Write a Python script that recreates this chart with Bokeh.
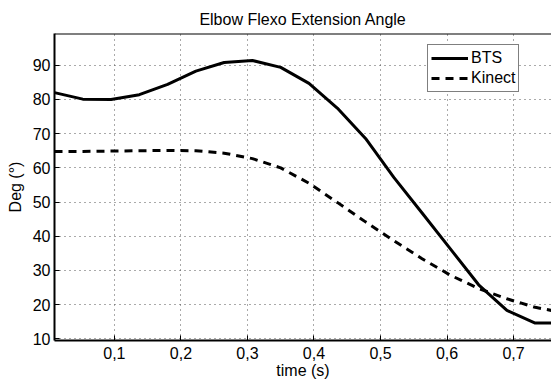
from bokeh.plotting import figure
from bokeh.models import (Range1d, FixedTicker, CustomJSTickFormatter, Legend, LegendItem, Span)
from bokeh.embed import file_html
from bokeh.resources import INLINE

# ---- data ----
time_s = [0.010, 0.0525, 0.095, 0.1375, 0.180, 0.2225, 0.265, 0.3075, 0.350, 0.3925,
          0.435, 0.4775, 0.520, 0.5625, 0.605, 0.6475, 0.690, 0.7325, 0.775]
bts = [82.0, 80.1, 80.0, 81.4, 84.4, 88.3, 90.8, 91.4, 89.4, 84.7,
       77.5, 68.6, 57.2, 46.8, 36.3, 25.8, 18.3, 14.6, 14.6]
kinect = [64.8, 64.8, 64.9, 65.0, 65.1, 65.0, 64.3, 62.7, 60.0, 55.5,
          49.9, 44.2, 38.7, 33.4, 28.6, 24.7, 21.7, 19.2, 17.6]
x_ticks = [0.1, 0.2, 0.3, 0.4, 0.5, 0.6, 0.7]
y_ticks = [10, 20, 30, 40, 50, 60, 70, 80, 90]
series_names = ["BTS", "Kinect"]
title_text = "Elbow Flexo Extension Angle"
x_label = "time (s)"
y_label = "Deg (°)"

FONT = "Liberation Sans"
FS = "16px"
Y_TOP = 99.3

p = figure(width=551, height=384, output_backend="svg", toolbar_location=None,
           x_range=Range1d(0.010, 0.757), y_range=Range1d(9.5, Y_TOP),
           min_border_left=54, min_border_right=0, min_border_top=33, min_border_bottom=44,
           title=title_text)
p.background_fill_color = "white"
p.border_fill_color = "white"
p.outline_line_color = None

p.title.text_font = FONT
p.title.text_font_size = FS
p.title.text_font_style = "normal"
p.title.text_color = "black"
p.title.align = "center"
p.title.standoff = 12

fmt = CustomJSTickFormatter(code="return tick.toFixed(1).replace('.', ',');")

for ax in p.xaxis:
    ax.ticker = FixedTicker(ticks=x_ticks)
    ax.formatter = fmt
    ax.axis_label = x_label
    ax.axis_label_standoff = 0
    ax.major_label_standoff = 6
for ax in p.yaxis:
    ax.ticker = FixedTicker(ticks=y_ticks)
    ax.axis_label = y_label
    ax.axis_label_standoff = 6
    ax.major_label_standoff = 4

for ax in p.xaxis + p.yaxis:
    ax.axis_label_text_font = FONT
    ax.axis_label_text_font_size = FS
    ax.axis_label_text_font_style = "normal"
    ax.axis_label_text_color = "black"
    ax.major_label_text_font = FONT
    ax.major_label_text_font_size = FS
    ax.major_label_text_color = "black"
    ax.axis_line_width = 2
    ax.axis_line_color = "black"
    ax.major_tick_in = 5
    ax.major_tick_out = 0
    ax.major_tick_line_color = "black"
    ax.minor_tick_line_color = None

# top spine of the box
p.add_layout(Span(location=Y_TOP, dimension="width", line_color="black", line_width=2))

for g in (p.xgrid[0], p.ygrid[0]):
    g.grid_line_color = "#555555"
    g.grid_line_dash = "1 4"
    g.grid_line_width = 1
p.xgrid[0].ticker = FixedTicker(ticks=x_ticks)
p.ygrid[0].ticker = FixedTicker(ticks=y_ticks)

r1 = p.line(time_s, bts, line_color="black", line_width=3)
r2 = p.line(time_s, kinect, line_color="black", line_width=3, line_dash="8 6")

legend = Legend(items=[LegendItem(label=series_names[0], renderers=[r1]),
                       LegendItem(label=series_names[1], renderers=[r2])],
                location=(373, 248))
legend.label_text_font = FONT
legend.label_text_font_size = FS
legend.label_text_color = "black"
legend.glyph_width = 37
legend.glyph_height = 20
legend.label_height = 20
legend.label_standoff = 3
legend.spacing = 0
legend.padding = 3
legend.margin = 0
legend.border_line_color = "black"
legend.border_line_width = 1.5
legend.background_fill_alpha = 1
p.add_layout(legend, "center")

open("out.html", "w").write(file_html(p, INLINE))
